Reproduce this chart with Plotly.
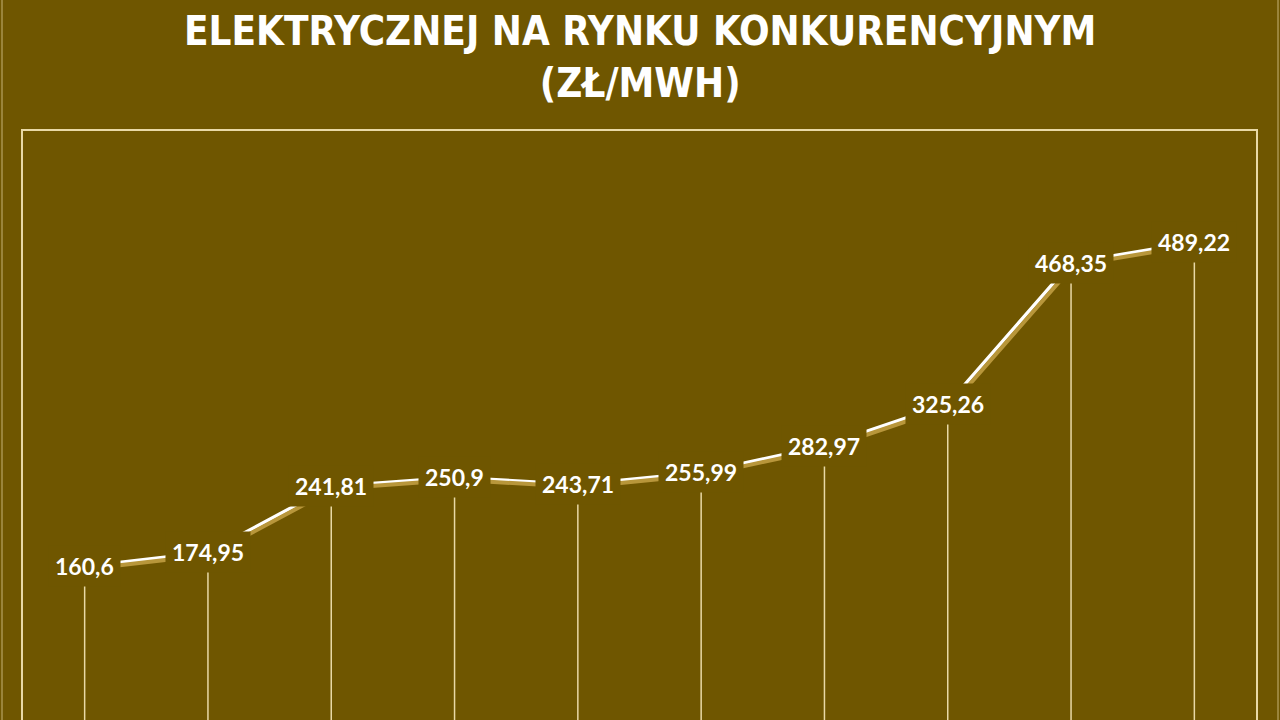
import plotly.graph_objects as go

# srednia cena energii elektrycznej na rynku konkurencyjnym (zl/MWh)
okresy = ["okres 1", "okres 2", "okres 3", "okres 4", "okres 5",
          "okres 6", "okres 7", "okres 8", "okres 9", "okres 10"]
ceny = [160.6, 174.95, 241.81, 250.9, 243.71, 255.99, 282.97, 325.26, 468.35, 489.22]
etykiety = ["160,6", "174,95", "241,81", "250,9", "243,71", "255,99",
            "282,97", "325,26", "468,35", "489,22"]

tlo = "#6f5600"
krem = "#e9d9a6"

fig = go.Figure()

# drop lines from each point down to zero
fig.add_trace(go.Scatter(
    x=okresy, y=ceny, mode="markers",
    marker=dict(size=1, color="rgba(0,0,0,0)"),
    error_y=dict(type="data", symmetric=False, array=[0] * len(ceny),
                 arrayminus=ceny, width=0, thickness=1.5, color=krem),
    hoverinfo="skip", showlegend=False,
))

# gold shadow under the line (drawn on slightly shifted axes)
fig.add_trace(go.Scatter(
    x=okresy, y=ceny, mode="lines", xaxis="x2", yaxis="y2",
    line=dict(color="#b8963a", width=4), hoverinfo="skip", showlegend=False,
))

fig.add_trace(go.Scatter(
    x=okresy, y=ceny, mode="lines",
    line=dict(color="white", width=3.5), showlegend=False,
))

for okres, cena, tekst in zip(okresy, ceny, etykiety):
    fig.add_annotation(
        x=okres, y=cena, text="<b>" + tekst + "</b>", showarrow=False,
        font=dict(family="Lato", size=23, color="white"),
        bgcolor=tlo, borderpad=6,
    )

# title as an annotation so the two lines sit exactly
fig.add_annotation(
    text="<b>ELEKTRYCZNEJ NA RYNKU KONKURENCYJNYM<br>(ZŁ/MWH)</b>",
    xref="paper", yref="paper", x=0.5, y=1, yanchor="bottom", yshift=23,
    showarrow=False,
    font=dict(family="DejaVu Sans Condensed", size=40, color="white"),
)

# faint slide edges left and right
for xe in [-21 / 1233, 1 + 22 / 1233]:
    fig.add_shape(type="line", xref="paper", yref="paper",
                  x0=xe, x1=xe, y0=-0.1, y1=1.3,
                  line=dict(color="#a8944f", width=1.5))

fig.update_layout(
    width=1280, height=720,
    paper_bgcolor=tlo, plot_bgcolor=tlo,
    margin=dict(l=23, r=24, t=131, b=0),
    xaxis=dict(type="category", range=[-0.5, 9.5], showgrid=False,
               showticklabels=False, ticks="", zeroline=False, side="top",
               showline=True, linecolor=krem, linewidth=2),
    yaxis=dict(range=[5, 602], showgrid=False, showticklabels=False,
               zeroline=False, showline=True, mirror=True,
               linecolor=krem, linewidth=2),
    xaxis2=dict(type="category", range=[-0.52, 9.48], overlaying="x",
                visible=False),
    yaxis2=dict(range=[7.5, 604.5], overlaying="y", visible=False),
)

fig.write_html("out.html", config={"displayModeBar": False},
               post_script="document.body.style.margin='0';"
                           "document.body.style.overflow='hidden';")
